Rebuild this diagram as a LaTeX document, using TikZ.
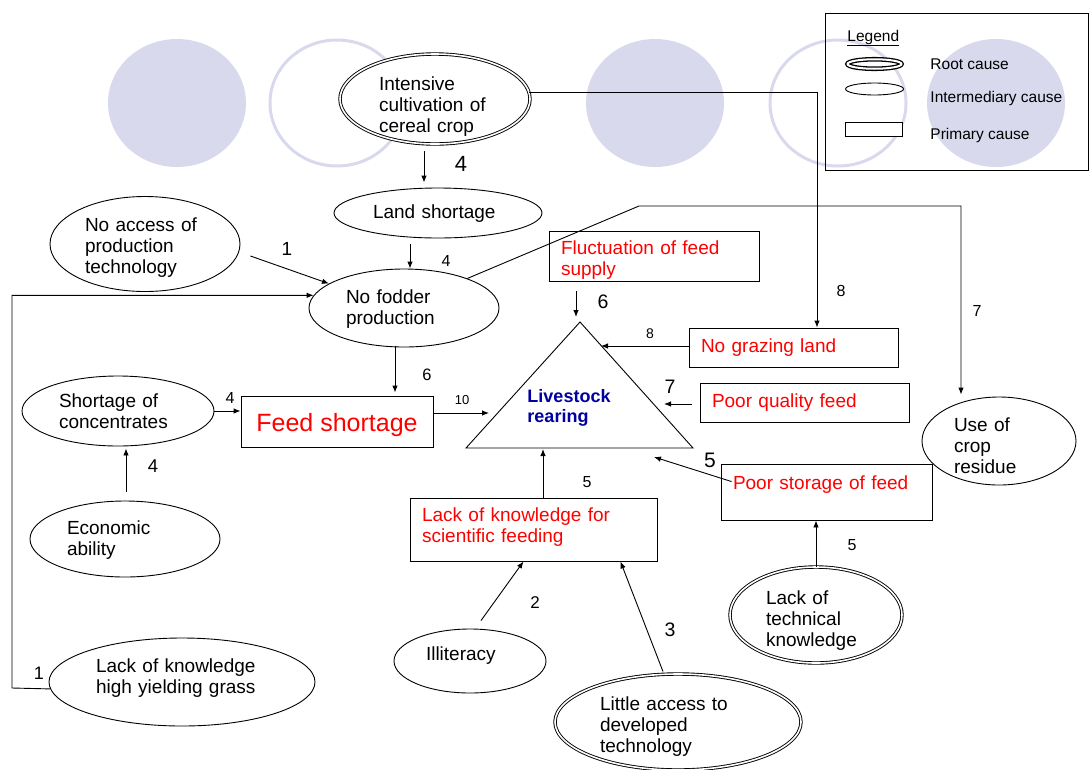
\documentclass[tikz,border=0pt]{standalone}
\usepackage{fontspec}
\setmainfont{Liberation Sans}
\usepackage{tikz}
\usetikzlibrary{shapes.geometric,calc}
\usetikzlibrary{arrows.meta}
\definecolor{lav}{RGB}{217,217,238}
\definecolor{rearblue}{RGB}{0,0,160}

\tikzset{
  cause/.style={ellipse, draw, fill=white, inner sep=0pt, align=left, text height=14pt, font=\fontsize{19}{21}\selectfont},
  rootcause/.style={cause, double, double distance=1.6pt},
  primary/.style={rectangle, draw, fill=white, text=red, inner xsep=12pt, inner ysep=0pt, align=left, font=\fontsize{19}{21}\selectfont},
  arr/.style={-{Latex[length=7pt,width=5.5pt]}},
  num/.style={inner sep=0pt, font=\fontsize{#1}{#1}\selectfont},
  legtext/.style={anchor=base west, inner sep=0pt, font=\fontsize{15.5}{17}\selectfont}
}

\begin{document}
\begin{tikzpicture}[x=1pt,y=-1pt,line width=0.9pt]
    \useasboundingbox (0,0) rectangle (1089,769);
    % Draw the background circles
    \fill[lav] (177,103) ellipse [x radius=69, y radius=64];
    \draw[lav, line width=3pt] (337,103) ellipse [x radius=67, y radius=63];
    \fill[lav] (655,103) ellipse [x radius=69, y radius=64];
    \draw[lav, line width=3pt] (838,103) ellipse [x radius=68, y radius=63];
    \fill[lav] (996,103) ellipse [x radius=69, y radius=64];
    % legend
    \draw (825,13) rectangle (1088,170);
    \node[legtext] (legtitle) at (847,41) {\underline{Legend}};
    \node[ellipse, draw, fill=white, double, double distance=2pt, line width=1.3pt, inner sep=0pt, minimum width=54pt, minimum height=9.5pt] (legroot) at (874.5,64) {};
    \node[ellipse, draw, fill=white, inner sep=0pt, minimum width=58pt, minimum height=12pt] (leginter) at (874.5,89) {};
    \node[draw, fill=white, inner sep=0pt, minimum width=57pt, minimum height=14pt] (legprim) at (873.5,129) {};
    \node[legtext] (txtroot) at (930,69) {Root cause};
    \node[legtext] (txtinter) at (930,102) {Intermediary cause};
    \node[legtext] (txtprim) at (930,139) {Primary cause};
    % Draw the causes
    \node[rootcause, minimum width=190pt, minimum height=90pt, text width=112pt, text depth=31pt] (intensive) at (435,99) {Intensive\\cultivation of\\cereal crop};
    \node[cause, minimum width=208pt, minimum height=50pt, text width=130pt, text depth=4pt] (land) at (438,213) {Land shortage};
    \node[cause, minimum width=190pt, minimum height=78pt, text width=116pt, text depth=23pt] (fodder) at (404,308) {No fodder\\production};
    \node[cause, minimum width=190pt, minimum height=95pt, text width=120pt, text depth=39pt] (access) at (145,244) {No access of\\production\\technology};
    \node[cause, minimum width=192pt, minimum height=70pt, text width=118pt, text depth=21pt] (conc) at (118,411) {Shortage of\\concentrates};
    \node[cause, minimum width=190pt, minimum height=76pt, text width=116pt, text depth=23pt] (econ) at (125,539) {Economic\\ability};
    \node[cause, minimum width=266pt, minimum height=88pt, text width=172pt, text depth=33pt] (grass) at (182,682) {Lack of knowledge\\high yielding grass};
    \node[cause, minimum width=152pt, minimum height=64pt, text width=88pt, text depth=15pt] (illit) at (470,661) {Illiteracy};
    \node[rootcause, minimum width=246pt, minimum height=96pt, text width=156pt, text depth=37pt] (little) at (678,722) {Little access to\\developed\\technology};
    \node[rootcause, minimum width=172pt, minimum height=96pt, text width=100pt, text depth=35pt] (tech) at (816,615) {Lack of\\technical\\knowledge};
    \node[cause, minimum width=154pt, minimum height=88pt, text width=90pt, text depth=33pt] (residue) at (999,441) {Use of\\crop\\residue};
    % primary causes
    \node[primary, text width=186pt, minimum height=50pt, text height=14pt, text depth=17pt] (fluct) at (654,256) {Fluctuation of feed\\supply};
    \node[primary, text width=185pt, minimum height=39pt] (graze) at (793.5,347.5) {No grazing land};
    \node[primary, text width=185pt, minimum height=39pt] (quality) at (804.5,402.5) {Poor quality feed};
    \node[primary, text width=187pt, text height=25pt, text depth=31pt] (storage) at (826.5,492) {Poor storage of feed};
    \node[primary, text width=223pt, minimum height=63pt, text height=14pt, text depth=30pt] (sci) at (533.5,529.5) {Lack of knowledge for\\scientific feeding};
    \node[primary, align=center, inner xsep=0pt, minimum width=192pt, minimum height=51pt, text height=25pt, text depth=6pt, font=\fontsize{25}{28}\selectfont] (feed) at (337,421.5) {Feed shortage};
    % Draw the triangle
    \coordinate (apex) at (580,322);
    \coordinate (baseL) at (466,448);
    \coordinate (baseR) at (693,448);
    \draw (apex) -- (baseL) -- (baseR) -- cycle;
    \node[font=\fontsize{18}{20}\selectfont\bfseries, text=rearblue, align=left, inner sep=0pt] (rear) at (569,408) {Livestock\\rearing};
    \coordinate (in10) at (489,413);
    \coordinate (in6) at (576,317);
    \coordinate (in8) at (601,346);
    \coordinate (in7) at (664,404);
    \coordinate (in5s) at (654,457);
    \coordinate (in5k) at (543,449);
    \coordinate (loop) at (12,688);
    \coordinate (bend) at (639,206);
    % arrows
    \draw[arr] ($(intensive.south)+(-11,7)$) -- ($(land.north)+(-14,-5)$);
    \draw[arr] ($(land.south)+(-28,6)$) -- ($(fodder.north)+(6,0)$);
    \draw[arr] ($(access.east)+(10,12)$) -- (fodder.162);
    \draw[arr] (grass.183) -- (loop) |- (fodder.172);
    \draw[arr] ($(fodder.south)+(-9,-1)$) -- ($(feed.north)+(58,-3)$);
    \draw[arr] (conc.east) -- (conc.east -| feed.west);
    \draw[arr] ($(econ.north)+(1,-9)$) -- ($(conc.south)+(8,2)$);
    \draw[arr] (feed.east |- in10) -- (in10);
    \draw[arr] ($(fluct.south)+(-78,10)$) -- (in6);
    \draw[arr] (graze.west |- in8) -- (in8);
    \draw[arr] ($(quality.west)+(-8,1.5)$) -- (in7);
    \draw[arr] ($(storage.north west)+(11,18)$) -- (in5s);
    \draw[arr] (sci.north -| in5k) -- (in5k);
    \draw[arr] ($(illit.north)+(11,-8)$) -- ($(sci.south)+(-10,0)$);
    \draw[arr] ($(little.north)+(-15,-2)$) -- ($(sci.south east)+(-37,0)$);
    \draw[arr] (tech.north) -- (tech.north |- storage.south);
    \draw[arr] (intensive.4) -| ($(graze.north)+(23.5,0)$);
    \draw[arr] (fodder.25) -- (bend) -| ($(residue.north)+(-38,-2)$);
    % weights
    \node[num=22] (w4a) at (461,164) {4};
    \node[num=16] (w4b) at (446,261) {4};
    \node[num=19] (w1a) at (287,249) {1};
    \node[num=18] (w1b) at (39,673) {1};
    \node[num=16.5] (w6a) at (427,375) {6};
    \node[num=16] (w4c) at (230,398) {4};
    \node[num=13] (w10) at (462,400) {10};
    \node[num=18.5] (w4d) at (153,466) {4};
    \node[num=19.5] (w6b) at (603,302) {6};
    \node[num=14] (w8a) at (650,334) {8};
    \node[num=16] (w8b) at (841,291) {8};
    \node[num=16] (w7a) at (977,311) {7};
    \node[num=19.5] (w7b) at (670,387) {7};
    \node[num=21] (w5a) at (710,460) {5};
    \node[num=16] (w5b) at (587,482) {5};
    \node[num=16] (w5c) at (852,545) {5};
    \node[num=17] (w2) at (535,603) {2};
    \node[num=19.5] (w3) at (670,630) {3};
  \end{tikzpicture}
\end{document}
